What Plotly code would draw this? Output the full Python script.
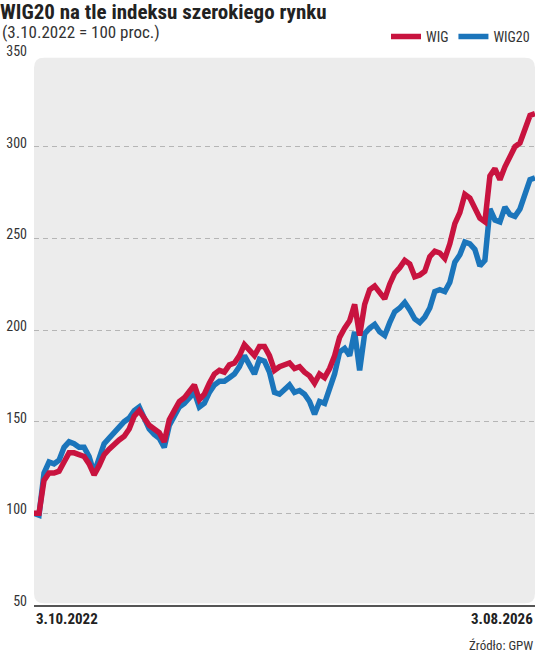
import pandas as pd
import plotly.graph_objects as go

# biweekly sampling points from 3.10.2022 to 3.08.2026
dates = pd.date_range("2022-10-03", "2026-08-03", freq="14D")

wig = [100, 100, 118, 122, 122, 123, 128, 133, 133, 132,
       131, 127, 121, 126, 132, 135, 138, 140, 142, 146,
       153, 156, 152, 148, 146, 144, 139, 151, 156, 161,
       163, 166, 170, 162, 165, 171, 176, 178, 177, 181,
       182, 186, 192, 189, 186, 191, 191, 186, 178, 180,
       181, 182, 179, 180, 177, 175, 171, 176, 174, 179,
       186, 196, 201, 205, 214, 197, 214, 222, 224, 221,
       217, 225, 231, 234, 238, 236, 229, 230, 232, 240,
       243, 242, 239, 247, 258, 264, 274, 272, 266, 261,
       259, 284, 288, 282, 289, 295, 300, 302, 310, 317,
       318]

wig20 = [100, 99, 122, 128, 127, 129, 136, 139, 138, 136,
         136, 131, 122, 129, 138, 141, 144, 148, 150, 152,
         156, 158, 151, 146, 143, 141, 136, 148, 153, 158,
         160, 163, 166, 158, 160, 166, 170, 172, 172, 174,
         176, 180, 186, 181, 176, 184, 183, 177, 166, 165,
         168, 170, 166, 167, 165, 161, 154, 161, 160, 167,
         176, 188, 190, 186, 199, 178, 198, 201, 203, 199,
         197, 204, 210, 212, 215, 211, 206, 204, 207, 212,
         221, 222, 221, 226, 237, 241, 248, 247, 244, 235,
         238, 266, 260, 259, 267, 263, 262, 266, 275, 282,
         283]

y_ticks = [50, 100, 150, 200, 250, 300, 350]
x_labels = ["3.10.2022", "3.08.2026"]

title = "WIG20 na tle indeksu szerokiego rynku"
subtitle = "(3.10.2022 = 100 proc.)"
source = "Źródło: GPW"

RED = "#c8133f"
BLUE = "#1b75bb"
NARROW = "Liberation Sans Narrow, Roboto Condensed, Roboto, sans-serif"

fig = go.Figure()
fig.add_trace(go.Scatter(x=dates, y=wig20, name="WIG20", mode="lines",
                         line=dict(color=BLUE, width=5.5)))
fig.add_trace(go.Scatter(x=dates, y=wig, name="WIG", mode="lines",
                         line=dict(color=RED, width=5.5)))

fig.update_layout(
    width=536, height=654,
    margin=dict(l=34, r=1, t=55, b=49),
    paper_bgcolor="white", plot_bgcolor="rgba(0,0,0,0)",
    font=dict(family=NARROW, color="#333"),
    title=dict(text="<b>" + title + "</b>", x=0, xref="container", xanchor="left",
               y=0.994, yref="container", yanchor="top",
               font=dict(family=NARROW, size=21, color="#222")),
    showlegend=True,
    legend=dict(orientation="h", x=1.0, xanchor="right", y=1.033, yanchor="middle",
                traceorder="reversed", font=dict(size=14, color="#333"),
                itemwidth=30, bgcolor="rgba(0,0,0,0)"),
    xaxis=dict(type="date", range=[dates[0], dates[-1]], showticklabels=False,
               showgrid=False, zeroline=False, showline=True, linecolor="#555",
               linewidth=2, ticks=""),
    yaxis=dict(range=[50, 350], tickvals=y_ticks, showgrid=True, gridcolor="#b5b5b5",
               griddash="5px,4px", gridwidth=1, zeroline=False, showline=False,
               ticks="", ticklabelstandoff=6, ticklabelshift=-4,
               tickfont=dict(size=14, color="#333")),
    shapes=[dict(type="path", xref="paper", yref="paper", layer="below",
                 path="M 0.02,0.003 L 0.98,0.003 Q 1.0,0.003 1.0,0.021 L 1.0,0.977 "
                      "Q 1.0,0.995 0.98,0.995 L 0.02,0.995 Q 0,0.995 0,0.977 "
                      "L 0,0.021 Q 0,0.003 0.02,0.003 Z",
                 fillcolor="#ececec", line=dict(width=0))],
    annotations=[
        dict(text=subtitle, xref="paper", yref="paper", x=-34/501, y=1 + 23/550,
             xanchor="left", yanchor="middle", showarrow=False,
             font=dict(family=NARROW, size=17, color="#333")),
        dict(text="<b>" + x_labels[0] + "</b>", xref="x", yref="paper", x=dates[0],
             y=-0.026, xanchor="left", yanchor="middle", showarrow=False,
             font=dict(family=NARROW, size=15, color="#222")),
        dict(text="<b>" + x_labels[1] + "</b>", xref="x", yref="paper", x=dates[-1],
             y=-0.026, xanchor="right", yanchor="middle", showarrow=False,
             font=dict(family=NARROW, size=15, color="#222")),
        dict(text=source, xref="paper", yref="paper", x=1.0, y=-0.073,
             xanchor="right", yanchor="middle", showarrow=False,
             font=dict(family=NARROW, size=13, color="#333")),
    ],
)

fig.write_html("out.html", config={"displayModeBar": False},
               post_script="document.body.style.margin='0';")
